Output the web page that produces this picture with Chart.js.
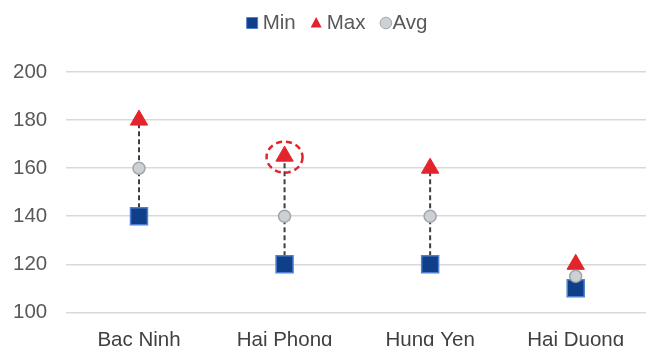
<!DOCTYPE html>
<html>
<head>
<meta charset="utf-8">
<script src="https://cdn.jsdelivr.net/npm/chart.js@4/dist/chart.umd.min.js"></script>
<style>
  html, body { margin: 0; padding: 0; background: #fff; overflow: hidden; }
  #wrap { width: 678px; height: 361px; position: relative; margin-left: -16px; }
</style>
</head>
<body>
<div id="wrap"><canvas id="grafico"></canvas></div>
<script>
// dados do grafico
const categorias = ['Bac Ninh', 'Hai Phong', 'Hung Yen', 'Hai Duong'];
const valoresMin = [140, 120, 120, 110];
const valoresMax = [180, 165, 160, 120];
const valoresAvg = [160, 140, 140, 115];
const ticksY = [100, 120, 140, 160, 180, 200];
const indiceDestaque = 1; // ponto Max circulado

const fonte = 'Liberation Sans';

// desenha um marcador (quadrado, triangulo ou circulo)
function marcador(ctx, estilo, x, y, r, fundo, borda, larguraBorda) {
    ctx.beginPath();
    if (estilo === 'rect') {
        ctx.rect(x - r, y - r, r * 2, r * 2);
    } else if (estilo === 'triangle') {
        ctx.moveTo(x, y - r * 1.1);
        ctx.lineTo(x + r, y + r * 0.8);
        ctx.lineTo(x - r, y + r * 0.8);
        ctx.closePath();
    } else {
        ctx.arc(x, y, r, 0, Math.PI * 2);
    }
    ctx.fillStyle = fundo;
    ctx.fill();
    if (larguraBorda) {
        ctx.lineWidth = larguraBorda;
        ctx.strokeStyle = borda;
        ctx.stroke();
    }
}

// linhas tracejadas, circulo de destaque e legenda
const extras = {
    id: 'extras',
    beforeDatasetsDraw(chart) {
        const ctx = chart.ctx;
        const x = chart.scales.x, y = chart.scales.y;
        ctx.save();
        ctx.strokeStyle = '#404040';
        ctx.lineWidth = 2;
        ctx.setLineDash([5, 3]);
        categorias.forEach((c, i) => {
            const px = x.getPixelForValue(i);
            ctx.beginPath();
            ctx.moveTo(px, y.getPixelForValue(valoresMin[i]));
            ctx.lineTo(px, y.getPixelForValue(valoresMax[i]));
            ctx.stroke();
        });
        ctx.restore();
    },
    afterDatasetsDraw(chart) {
        const ctx = chart.ctx;
        const ponto = chart.getDatasetMeta(1).data[indiceDestaque];
        ctx.save();
        ctx.strokeStyle = '#E3242B';
        ctx.lineWidth = 2.5;
        ctx.setLineDash([6, 4]);
        ctx.beginPath();
        ctx.ellipse(ponto.x, ponto.y + 1, 18, 15.5, 0, 0, Math.PI * 2);
        ctx.stroke();
        ctx.restore();

        // legenda
        ctx.save();
        ctx.font = '20.5px "' + fonte + '"';
        ctx.textBaseline = 'middle';
        const itens = chart.data.datasets;
        const gapMarcador = [5, 5, 1];
        let total = 0;
        itens.forEach((d, i) => {
            total += 11 + gapMarcador[i] + ctx.measureText(d.label).width;
            if (i < itens.length - 1) total += 15;
        });
        let px = 353 - total / 2;
        const py = 23;
        itens.forEach((d, i) => {
            marcador(ctx, d.pointStyle, px + 5.5, py, d.pointStyle === 'circle' ? 5.8 : 5.5,
                d.backgroundColor, d.borderColor, d.pointStyle === 'triangle' ? 0 : 1);
            px += 11 + gapMarcador[i];
            ctx.fillStyle = '#595959';
            ctx.fillText(d.label, px, py);
            px += ctx.measureText(d.label).width + 15;
        });
        ctx.restore();
    }
};

const ctx = document.getElementById('grafico').getContext('2d');
new Chart(ctx, {
    type: 'line',
    data: {
        labels: categorias,
        datasets: [
            {
                label: 'Min',
                data: valoresMin,
                showLine: false,
                pointStyle: 'rect',
                pointRadius: 12,
                pointHoverRadius: 12,
                backgroundColor: '#0E3F88',
                borderColor: '#4F7FD0',
                pointBorderWidth: 1.5,
                order: 2
            },
            {
                label: 'Max',
                data: valoresMax,
                showLine: false,
                pointStyle: 'triangle',
                pointRadius: 10,
                pointHoverRadius: 10,
                backgroundColor: '#E3242B',
                borderColor: '#E3242B',
                pointBorderWidth: 1,
                order: 1
            },
            {
                label: 'Avg',
                data: valoresAvg,
                showLine: false,
                pointStyle: 'circle',
                pointRadius: 6,
                pointHoverRadius: 6,
                backgroundColor: '#CDD0D5',
                borderColor: '#A3A6AA',
                pointBorderWidth: 1.5,
                order: 0
            }
        ]
    },
    options: {
        responsive: true,
        maintainAspectRatio: false,
        animation: false,
        layout: { padding: { top: 72, right: 0, left: 10, bottom: 0 } },
        scales: {
            x: {
                offset: true,
                grid: { display: false },
                border: { display: false },
                ticks: { color: '#404040', font: { family: fonte, size: 20.5 }, padding: 8 }
            },
            y: {
                min: 100,
                max: 200,
                afterBuildTicks: (axis) => { axis.ticks = ticksY.map(v => ({ value: v })); },
                grid: { color: '#D9D9D9', lineWidth: 1.5, drawTicks: false },
                border: { display: false },
                ticks: { color: '#595959', font: { family: fonte, size: 20.5 }, padding: 19 }
            }
        },
        plugins: {
            legend: { display: false },
            tooltip: { enabled: false }
        }
    },
    plugins: [extras]
});
</script>
</body>
</html>
